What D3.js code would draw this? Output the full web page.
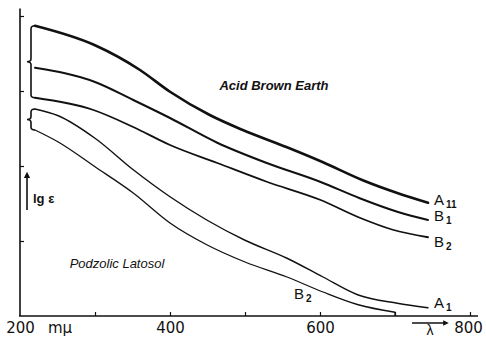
<!DOCTYPE html>
<html>
<head>
<meta charset="utf-8">
<script src="https://cdn.jsdelivr.net/npm/d3@7"></script>
<style>
  html, body { margin: 0; padding: 0; background: #fff; }
  svg { display: block; }
  text { font-family: "Liberation Sans", "DejaVu Sans", sans-serif; fill: #111; }
</style>
</head>
<body>
<svg id="chart" width="486" height="340"></svg>
<script>
// wavelength (m\u03bc) and lg epsilon
const acidA11 = [[220, 3.87], [300, 3.61], [360, 3.28], [400, 2.99], [453, 2.68], [497, 2.48], [556, 2.25], [604, 2.05], [657, 1.81], [703, 1.64], [744, 1.51]];
const acidB1 = [[220, 3.31], [300, 3.12], [351, 2.88], [400, 2.64], [463, 2.31], [529, 2.04], [600, 1.79], [653, 1.57], [703, 1.39], [744, 1.28]];
const acidB2 = [[220, 2.91], [297, 2.75], [351, 2.52], [400, 2.28], [463, 2.04], [529, 1.79], [600, 1.55], [653, 1.31], [697, 1.15], [744, 1.05]];
const podA1 = [[220, 2.76], [251, 2.67], [300, 2.37], [351, 1.95], [400, 1.59], [449, 1.28], [500, 1.01], [556, 0.77], [604, 0.52], [651, 0.28], [703, 0.17], [744, 0.11]];
const podB2 = [[220, 2.48], [251, 2.32], [300, 1.99], [351, 1.64], [400, 1.24], [449, 0.95], [500, 0.72], [556, 0.52], [604, 0.32], [651, 0.15], [700, 0.05]];

const xTicks = [200, 300, 400, 500, 600, 700, 800];
const xTickLabels = { 200: "200", 400: "400", 600: "600", 800: "800" };
const yTicks = [1, 2, 3, 4];

const svg = d3.select("#chart");

const x = d3.scaleLinear().domain([200, 800]).range([20, 470]);
const y = d3.scaleLinear().domain([0, 4]).range([316, 16]);

// axes, ticks pointing inwards
const xAxis = d3.axisBottom(x)
    .tickValues(xTicks)
    .tickSize(-4)
    .tickSizeOuter(0)
    .tickFormat(d => xTickLabels[d] || "");

const gx = svg.append("g")
    .attr("transform", `translate(0,${y(0)})`)
    .call(xAxis);
gx.select(".domain").remove();
gx.selectAll(".tick line").attr("stroke", "#111").attr("stroke-width", 1.2);
gx.selectAll(".tick text")
    .attr("font-size", 15)
    .attr("y", 17)
    .attr("dy", 0)
    .style("font-family", "'DejaVu Sans', sans-serif")
    .attr("fill", "#111");
gx.selectAll(".tick").filter(d => d === 200).select("line").remove();
gx.selectAll(".tick").filter(d => d === 800).select("text").attr("dx", -2);

svg.append("line")
    .attr("x1", x(200) - 1).attr("x2", 478)
    .attr("y1", y(0)).attr("y2", y(0))
    .attr("stroke", "#111").attr("stroke-width", 1.6);

const gy = svg.append("g")
    .attr("transform", `translate(${x(200)},0)`)
    .call(d3.axisLeft(y).tickValues(yTicks).tickSize(-4).tickSizeOuter(0).tickFormat(""));
gy.select(".domain").remove();
gy.selectAll(".tick line").attr("stroke", "#111").attr("stroke-width", 1.2);

svg.append("line")
    .attr("x1", x(200)).attr("x2", x(200))
    .attr("y1", y(0)).attr("y2", y(4.1))
    .attr("stroke", "#111").attr("stroke-width", 1.6);

// curves
const line = d3.line()
    .x(d => x(d[0]))
    .y(d => y(d[1]))
    .curve(d3.curveMonotoneX);

const curves = [
    { data: acidA11, width: 2.6 },
    { data: acidB1, width: 2.0 },
    { data: acidB2, width: 1.8 },
    { data: podA1, width: 1.4 },
    { data: podB2, width: 1.3 }
];

svg.selectAll("path.curve")
    .data(curves)
    .join("path")
    .attr("class", "curve")
    .attr("fill", "none")
    .attr("stroke", "#111")
    .attr("stroke-linejoin", "round")
    .attr("stroke-linecap", "round")
    .attr("stroke-width", d => d.width)
    .attr("d", d => line(d.data));

// short drop at the end of the podzolic B2 curve
const lastB2 = podB2[podB2.length - 1];
svg.append("line")
    .attr("x1", x(lastB2[0])).attr("x2", x(lastB2[0]))
    .attr("y1", y(lastB2[1])).attr("y2", y(0))
    .attr("stroke", "#111").attr("stroke-width", 1.3);

// curly braces grouping the curves
function brace(top, bottom) {
    const bx = x(200) + 11, hook = x(200) + 15, mid = (top + bottom) / 2;
    const p = d3.path();
    p.moveTo(hook, top);
    p.quadraticCurveTo(bx, top, bx, top + 3);
    p.lineTo(bx, mid - 3);
    p.quadraticCurveTo(bx, mid, bx - 4, mid);
    p.quadraticCurveTo(bx, mid, bx, mid + 3);
    p.lineTo(bx, bottom - 3);
    p.quadraticCurveTo(bx, bottom, hook, bottom);
    return p.toString();
}
[[acidA11, acidB2], [podA1, podB2]].forEach(([a, b]) => {
    svg.append("path")
        .attr("d", brace(y(a[0][1]), y(b[0][1])))
        .attr("fill", "none")
        .attr("stroke", "#111")
        .attr("stroke-width", 1.6);
});

// y label with arrow
svg.append("defs").append("marker")
    .attr("id", "head")
    .attr("viewBox", "0 0 10 10")
    .attr("refX", 5).attr("refY", 5)
    .attr("markerWidth", 4).attr("markerHeight", 6)
    .attr("orient", "auto")
    .append("path").attr("d", "M0,0L10,5L0,10Z").attr("fill", "#111");

svg.append("line")
    .attr("x1", 27).attr("x2", 27)
    .attr("y1", 210).attr("y2", 175)
    .attr("stroke", "#111").attr("stroke-width", 1.6)
    .attr("marker-end", "url(#head)");

svg.append("text")
    .attr("x", 33).attr("y", 203)
    .attr("font-size", 13)
    .attr("font-weight", "bold")
    .text("lg \u03b5");

// x label
svg.append("text")
    .attr("x", 48).attr("y", 333)
    .attr("font-size", 15)
    .style("font-family", "'DejaVu Sans', sans-serif")
    .text("m\u03bc");

svg.append("line")
    .attr("x1", 412).attr("x2", 446)
    .attr("y1", 323).attr("y2", 323)
    .attr("stroke", "#111").attr("stroke-width", 1.4)
    .attr("marker-end", "url(#head)");

svg.append("text")
    .attr("x", 430).attr("y", 335)
    .attr("text-anchor", "middle")
    .attr("font-size", 14)
    .text("\u03bb");

// soil names
svg.append("text")
    .attr("x", 274).attr("y", 90)
    .attr("text-anchor", "middle")
    .attr("font-size", 13)
    .attr("font-style", "italic")
    .attr("font-weight", "bold")
    .text("Acid Brown Earth");

svg.append("text")
    .attr("x", 117).attr("y", 268)
    .attr("text-anchor", "middle")
    .attr("font-size", 13)
    .attr("font-style", "italic")
    .text("Podzolic Latosol");

// curve labels
const curveLabels = [
    { main: "A", sub: "11", x: 434, y: 205 },
    { main: "B", sub: "1", x: 434, y: 221 },
    { main: "B", sub: "2", x: 434, y: 247 },
    { main: "B", sub: "2", x: 294, y: 299 },
    { main: "A", sub: "1", x: 434, y: 308 }
];

curveLabels.forEach(d => {
    const t = svg.append("text")
        .attr("x", d.x).attr("y", d.y)
        .attr("font-size", 15);
    t.append("tspan").text(d.main);
    t.append("tspan").attr("dx", 2).attr("dy", 3).attr("font-size", 10).attr("font-weight", "bold").text(d.sub);
});
</script>
</body>
</html>
